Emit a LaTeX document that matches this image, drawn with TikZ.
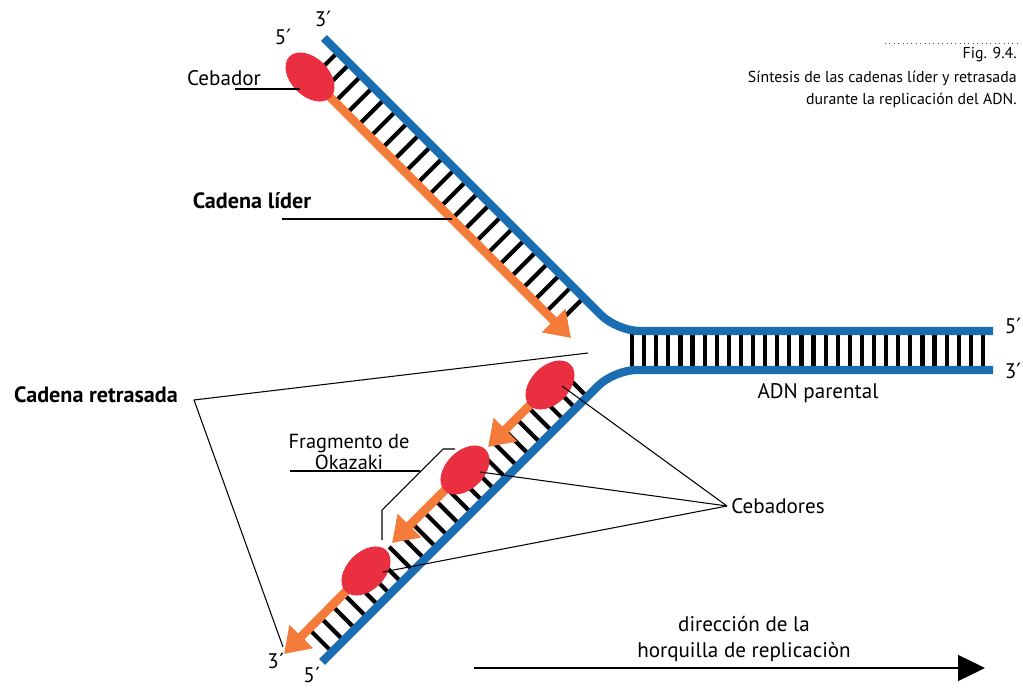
\documentclass[tikz,border=0pt]{standalone}
\usepackage{fontspec}
\setmainfont{PT Sans}
\newfontfamily\primefont{DejaVu Sans}
\newfontfamily\capfont{PT Sans}
\definecolor{dnablue}{HTML}{1B6DB1}
\definecolor{newstrand}{HTML}{F47B3A}
\definecolor{primerred}{HTML}{EA3040}
\usetikzlibrary{shapes.geometric,arrows.meta,positioning,calc}
\newcommand{\prm}{{\primefont ′}}

\begin{document}
\begin{tikzpicture}[x=0.02cm, y=-0.02cm,
    lbl/.style={font=\fontsize{12}{14}\selectfont, inner sep=0pt, anchor=base},
    boldlbl/.style={lbl, font=\fontsize{12.6}{14}\selectfont\bfseries},
    caplbl/.style={font=\capfont\fontsize{9}{12.5}\selectfont, inner sep=0pt, anchor=base east, align=right},
    template/.style={line width=4.7pt, dnablue, rounded corners=0.45cm},
    daughter/.style={line width=5pt, newstrand, -{Triangle[length=14pt, width=18pt]}},
    rung/.style={line width=2.4pt, black},
    primer/.style={ellipse, fill=primerred, minimum width=1.16cm, minimum height=0.76cm, inner sep=0pt},
    leader/.style={line width=0.6pt, black}
  ]
    \useasboundingbox (0,0) rectangle (1023,688);

    % base pairs
    \foreach \s in {14,25.7,...,260}
      \draw[rung] ({324+\s},{38+\s}) -- ({297.5+\s},{64.5+\s});
    \foreach \v in {10,21.6,...,266}
      \draw[rung] ({322+\v},{662-\v}) -- ({298+\v},{638-\v});
    \foreach \x in {632,644.1,...,985}
      \draw[rung] (\x,331) -- (\x,370);

    % parental strands
    \coordinate (topEnd) at (324,38);
    \coordinate (botEnd) at (322,662);
    \draw[template] (topEnd) -- (617,331) -- (993,331);
    \draw[template] (botEnd) -- (614,370) -- (993,370);

    % new strands
    \coordinate (leadStart) at (310,77);
    \coordinate (leadTip) at (571,338);
    \coordinate (okaA) at (550,385);
    \coordinate (okaAtip) at (488,447);
    \coordinate (okaB) at (465,470);
    \coordinate (okaBtip) at (392,543);
    \coordinate (okaC) at (366,571);
    \coordinate (okaCtip) at (284,654);
    \draw[daughter] (leadStart) -- (leadTip);
    \draw[daughter] (okaA) -- (okaAtip);
    \draw[daughter] (okaB) -- (okaBtip);
    \draw[daughter] (okaC) -- (okaCtip);

    % primers
    \node[primer, rotate=-45] (leadPrimer) at (leadStart) {};
    \node[primer, rotate=45] (primerA) at (okaA) {};
    \node[primer, rotate=45] (primerB) at (okaB) {};
    \node[primer, rotate=45] (primerC) at (okaC) {};

    % end labels
    \node[lbl] (topThree) at (323,27) {3\prm};
    \node[lbl] (topFive) at (283,45) {5\prm};
    \node[lbl] (rightFive) at (1013,334) {5\prm};
    \node[lbl] (rightThree) at (1013,379) {3\prm};
    \node[lbl] (botThree) at (276,668) {3´};
    \node[lbl] (botFive) at (312,682) {5´};

    % labels and leaders
    \node[lbl] (cebadorLbl) at (224,86) {Cebador};
    \draw[leader] ([shift={(11,3)}]cebadorLbl.base) -- +(65,0);

    \node[boldlbl] (liderLbl) at (252,209) {Cadena líder};
    \draw[leader] ([shift={(30,10)}]liderLbl.base) -- +(170,0);

    \node[boldlbl] (retLbl) at (96,403) {Cadena retrasada};
    \coordinate (retApex) at (194,400);
    \coordinate (retUp) at (588,353);
    \coordinate (retDown) at (283,647);
    \draw[leader] (retUp) -- (retApex) -- (retDown);

    \node[lbl, anchor=center, align=center, font=\fontsize{11.6}{12}\selectfont] (okaLbl) at (349,452) {Fragmento de\\Okazaki};
    \draw[leader] (290,471) -- (420,471);
    \draw[leader] ([shift={(-10,-21)}]primerB.center) -- ++(-12,0) -- ++(-61,61) -- ++(0,30);

    \node[lbl] (cebadoresLbl) at (778,513) {Cebadores};
    \coordinate (cebApex) at (727,506);
    \draw[leader] ([shift={(12,1)}]primerA.center) -- (cebApex);
    \draw[leader] ([shift={(15,2)}]primerB.center) -- (cebApex);
    \draw[leader] ([shift={(17,1)}]primerC.center) -- (cebApex);

    \node[lbl] (parentalLbl) at (818,399) {ADN parental};

    % fork direction
    \node[lbl, anchor=center, align=center, font=\fontsize{12}{14.7}\selectfont] (dirLbl) at (744,639) {dirección de la\\horquilla de replicaciòn};
    \coordinate (dirStart) at (474,668);
    \coordinate (dirEnd) at (985,668);
    \draw[line width=0.85pt, -{Triangle[length=15.3pt, width=14.7pt]}] (dirStart) -- (dirEnd);

    % caption
    \draw[dotted, line width=0.5pt, black!70] (885,43) -- (1017,43);
    \node[caplbl] (figLbl) at (1017,59) {Fig. 9.4.};
    \node[caplbl, anchor=north east] (capLbl) at (1017,71) {Síntesis de las cadenas líder y retrasada\\durante la replicación del ADN.};
  \end{tikzpicture}
\end{document}
